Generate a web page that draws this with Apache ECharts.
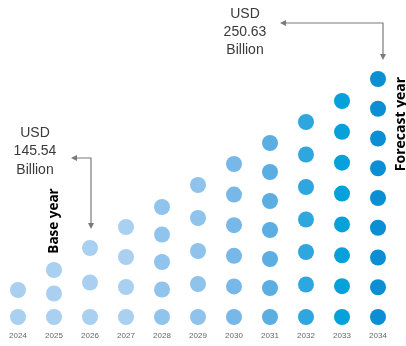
<!DOCTYPE html>
<html><head><meta charset="utf-8">
<script src="https://cdn.jsdelivr.net/npm/echarts@6/dist/echarts.min.js"></script>
<style>html,body{margin:0;padding:0;background:#fff}#c{width:406px;height:346px}</style>
</head><body><div id="c"></div>
<script>
// Data
const years = ['2024','2025','2026','2027','2028','2029','2030','2031','2032','2033','2034'];
const dotCounts = [2, 3, 3, 4, 5, 5, 6, 7, 7, 8, 9];
const topLevels = [27, 47, 69, 90, 110, 132, 153, 174, 195, 216, 238];
const dotColors = ['#a9d0f0','#a9d0f0','#a9d0f0','#a9d0f0','#90c4ec','#8fc3ec','#77b8e8','#5aaee2','#2ea6de','#06a0da','#0a8fd4'];
const baseLabel = ['USD', '145.54', 'Billion'];
const forecastLabel = ['USD', '250.63', 'Billion'];
const baseYearText = 'Base year';
const forecastYearText = 'Forecast year';

const dots = [];
years.forEach((y, i) => {
  const n = dotCounts[i];
  for (let k = 0; k < n; k++) {
    dots.push({ value: [i, topLevels[i] * k / (n - 1)], itemStyle: { color: dotColors[i], opacity: 1 } });
  }
});

const chart = echarts.init(document.getElementById('c'), null, { renderer: 'canvas' });
const arrowColor = '#7a7a7a';
const txtFont = '14px "Liberation Sans", Arial, sans-serif';
const boldFont = 'bold 13.5px "Open Sans", "Liberation Sans", Arial, sans-serif';

function arrow(x1, y1, xc, y2) {
  return [
    { type: 'polyline', shape: { points: [[x1 + 3, y1], [xc, y1], [xc, y2 - 3]] }, style: { stroke: arrowColor, lineWidth: 1.2, fill: null } },
    { type: 'polygon', shape: { points: [[x1, y1], [x1 + 6, y1 - 3], [x1 + 6, y1 + 3]] }, style: { fill: arrowColor } },
    { type: 'polygon', shape: { points: [[xc, y2], [xc - 3, y2 - 6], [xc + 3, y2 - 6]] }, style: { fill: arrowColor } }
  ];
}

const graphics = [];
baseLabel.forEach((t, i) => graphics.push({ type: 'text', x: 35, y: 133 + i * 18.5, style: { text: t, fill: '#3a3a3a', font: txtFont, textAlign: 'center', textVerticalAlign: 'middle' } }));
forecastLabel.forEach((t, i) => graphics.push({ type: 'text', x: 245, y: 14 + i * 18, style: { text: t, fill: '#3a3a3a', font: txtFont, textAlign: 'center', textVerticalAlign: 'middle' } }));
graphics.push(...arrow(71, 158, 91, 229));
graphics.push(...arrow(280, 23, 383, 60));
graphics.push({ type: 'text', x: 54, y: 221, rotation: Math.PI / 2, style: { text: baseYearText, fill: '#000', font: boldFont, textAlign: 'center', textVerticalAlign: 'middle' } });
graphics.push({ type: 'text', x: 401, y: 124, rotation: Math.PI / 2, style: { text: forecastYearText, fill: '#000', font: 'bold 14px "Open Sans", "Liberation Sans", Arial, sans-serif', textAlign: 'center', textVerticalAlign: 'middle' } });

chart.setOption({
  animation: false,
  grid: { left: 0, right: 10, top: 67, bottom: 29, containLabel: false },
  xAxis: {
    type: 'category', data: years, boundaryGap: true,
    axisLine: { show: false }, axisTick: { show: false },
    axisLabel: { color: '#666', fontSize: 8, margin: 15, fontFamily: 'Liberation Sans, Arial, sans-serif' }
  },
  yAxis: { type: 'value', min: 0, max: 250, show: false, splitLine: { show: false } },
  series: [{ type: 'scatter', symbol: 'circle', symbolSize: 16, data: dots, clip: false }],
  graphic: graphics
});
</script></body></html>
